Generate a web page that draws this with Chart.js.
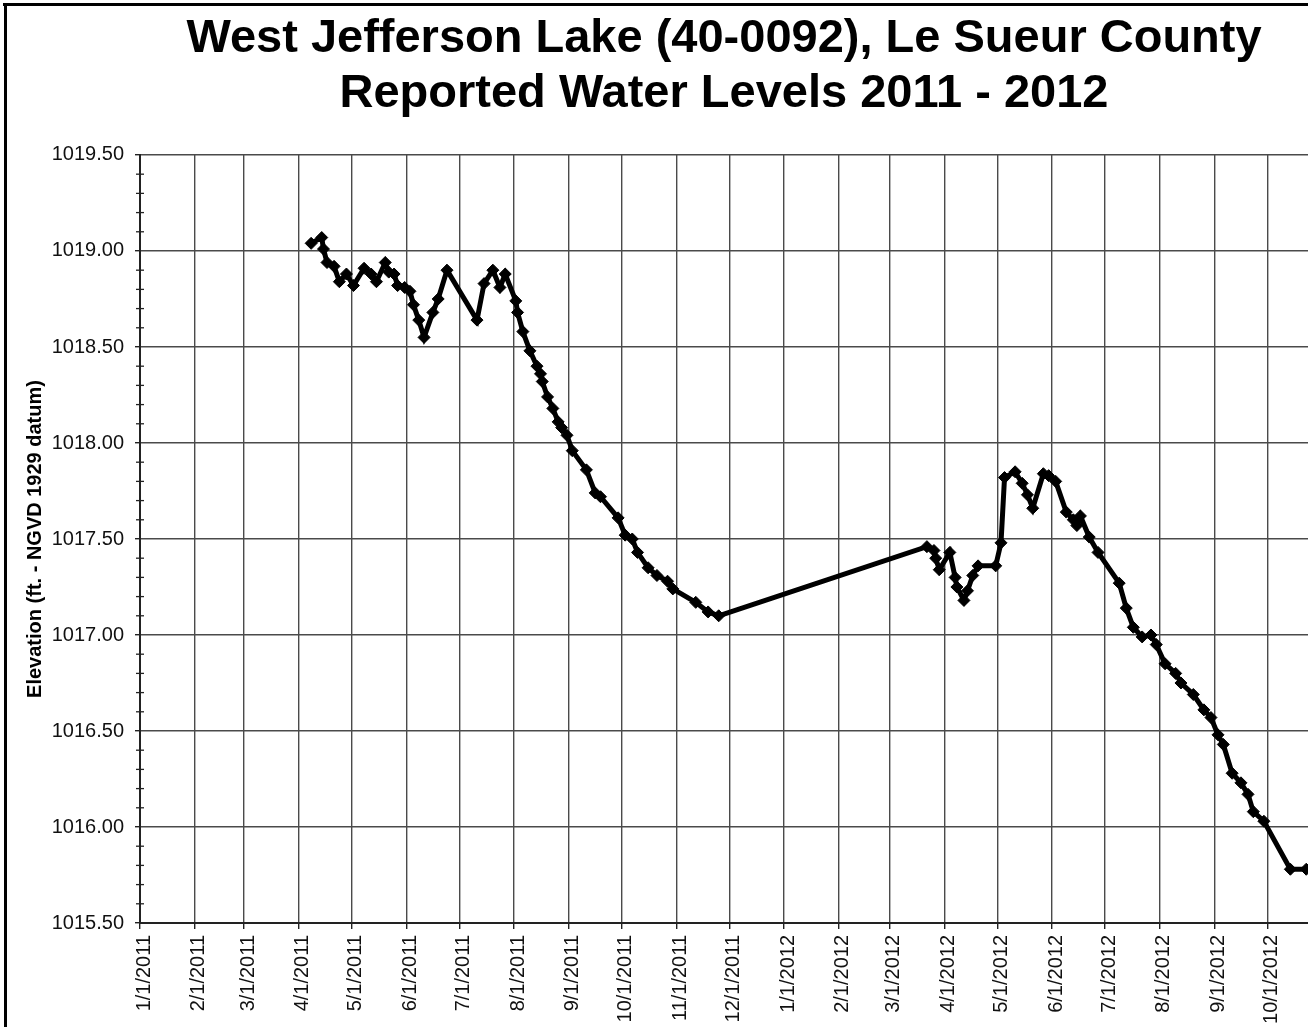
<!DOCTYPE html>
<html>
<head>
<meta charset="utf-8">
<script src="https://cdn.jsdelivr.net/npm/chart.js@4.4.1/dist/chart.umd.min.js"></script>
<style>
  html, body { margin: 0; padding: 0; background: #fff; }
  #wrap { position: relative; width: 1308px; height: 1027px; overflow: hidden; }
</style>
</head>
<body>
<div id="wrap"><canvas id="c"></canvas></div>
<script>
// ---------- data ----------
const chartTitle = ['West Jefferson Lake (40-0092), Le Sueur County', 'Reported Water Levels 2011 - 2012'];
const yAxisTitle = 'Elevation (ft. - NGVD 1929 datum)';

const tickLabels = [
  '1/1/2011','2/1/2011','3/1/2011','4/1/2011','5/1/2011','6/1/2011','7/1/2011','8/1/2011',
  '9/1/2011','10/1/2011','11/1/2011','12/1/2011','1/1/2012','2/1/2012','3/1/2012','4/1/2012',
  '5/1/2012','6/1/2012','7/1/2012','8/1/2012','9/1/2012','10/1/2012'
];
const xRange = ['1/1/2011', '10/24/2012'];
const yRange = [1015.5, 1019.5];
const yMajorStep = 0.5;
const yMinorStep = 0.1;

const sampleDates = [
  '4/8/2011','4/14/2011','4/15/2011','4/17/2011','4/21/2011','4/24/2011','4/28/2011',
  '5/2/2011','5/8/2011','5/12/2011','5/15/2011','5/20/2011','5/22/2011','5/25/2011','5/27/2011','5/31/2011',
  '6/3/2011','6/5/2011','6/8/2011','6/11/2011','6/16/2011','6/19/2011','6/24/2011',
  '7/11/2011','7/15/2011','7/20/2011','7/24/2011','7/27/2011',
  '8/2/2011','8/3/2011','8/6/2011','8/10/2011','8/14/2011','8/16/2011','8/17/2011','8/20/2011','8/23/2011','8/26/2011','8/28/2011','8/31/2011',
  '9/3/2011','9/11/2011','9/16/2011','9/19/2011','9/29/2011',
  '10/3/2011','10/7/2011','10/10/2011','10/16/2011','10/21/2011','10/27/2011','10/30/2011',
  '11/12/2011','11/19/2011','11/25/2011',
  '3/22/2012','3/26/2012','3/27/2012','3/29/2012',
  '4/4/2012','4/7/2012','4/8/2012','4/12/2012','4/14/2012','4/17/2012','4/20/2012','4/30/2012',
  '5/3/2012','5/5/2012','5/11/2012','5/15/2012','5/18/2012','5/21/2012','5/27/2012','5/30/2012',
  '6/3/2012','6/9/2012','6/13/2012','6/15/2012','6/17/2012','6/22/2012','6/27/2012',
  '7/9/2012','7/13/2012','7/17/2012','7/22/2012','7/27/2012','7/30/2012',
  '8/4/2012','8/10/2012','8/13/2012','8/20/2012','8/26/2012','8/30/2012',
  '9/3/2012','9/6/2012','9/11/2012','9/16/2012','9/20/2012','9/23/2012','9/29/2012',
  '10/14/2012','10/23/2012'
];
const levels = [
  1019.04,1019.07,1019.01,1018.94,1018.92,1018.84,1018.88,
  1018.82,1018.91,1018.88,1018.84,1018.94,1018.89,1018.88,1018.82,1018.81,
  1018.79,1018.72,1018.64,1018.55,1018.68,1018.75,1018.90,
  1018.64,1018.83,1018.90,1018.81,1018.88,
  1018.74,1018.68,1018.58,1018.48,1018.40,1018.36,1018.32,1018.24,1018.18,1018.11,1018.08,1018.04,
  1017.96,1017.86,1017.74,1017.72,1017.61,
  1017.52,1017.50,1017.43,1017.35,1017.31,1017.28,1017.24,
  1017.17,1017.12,1017.10,
  1017.46,1017.44,1017.40,1017.34,
  1017.43,1017.30,1017.25,1017.18,1017.23,1017.31,1017.36,1017.36,
  1017.48,1017.82,1017.85,1017.79,1017.73,1017.66,1017.84,1017.83,
  1017.80,1017.64,1017.60,1017.57,1017.62,1017.51,1017.43,
  1017.27,1017.14,1017.04,1016.99,1017.00,1016.95,
  1016.85,1016.80,1016.75,1016.69,1016.61,1016.57,
  1016.48,1016.43,1016.28,1016.23,1016.17,1016.08,1016.03,
  1015.78,1015.78
];

// ---------- helpers ----------
function mdy(s) { const [m, d, y] = s.split('/').map(Number); return Date.UTC(y, m - 1, d); }
const tickValues = tickLabels.map(mdy);
const labelByValue = new Map(tickValues.map((v, i) => [v, tickLabels[i]]));
const points = sampleDates.map((d, i) => ({ x: mdy(d), y: levels[i] }));

const framePlugin = {
  id: 'frame',
  beforeDraw(chart) {
    const ctx = chart.ctx;
    ctx.save();
    ctx.fillStyle = '#fff';
    ctx.fillRect(0, 0, chart.width, chart.height);
    ctx.restore();
  },
  afterDraw(chart) {
    const ctx = chart.ctx;
    const ys = chart.scales.y;
    const x0 = chart.chartArea.left;
    ctx.save();
    ctx.strokeStyle = '#222';
    ctx.lineWidth = 1.3;
    const n = Math.round((yRange[1] - yRange[0]) / yMinorStep);
    const per = Math.round(yMajorStep / yMinorStep);
    for (let i = 1; i < n; i++) {
      if (i % per === 0) continue;
      const p = ys.getPixelForValue(yRange[0] + i * yMinorStep);
      ctx.beginPath();
      ctx.moveTo(x0 - 4, p);
      ctx.lineTo(x0 + 4, p);
      ctx.stroke();
    }
    ctx.fillStyle = '#000';
    ctx.fillRect(3, 3, chart.width - 3, 3);
    ctx.fillRect(4, 3, 3, chart.height - 3);
    ctx.restore();
  }
};

new Chart(document.getElementById('c'), {
  type: 'line',
  data: {
    datasets: [{
      data: points,
      borderColor: '#000',
      borderWidth: 5,
      pointStyle: 'rectRot',
      pointRadius: 6,
      pointBackgroundColor: '#000',
      pointBorderColor: '#000',
      pointBorderWidth: 1,
      tension: 0
    }]
  },
  plugins: [framePlugin],
  options: {
    responsive: true,
    maintainAspectRatio: false,
    animation: false,
    layout: { padding: 0, autoPadding: false },
    plugins: {
      legend: { display: false },
      tooltip: { enabled: false },
      title: {
        display: true,
        text: chartTitle,
        fullSize: false,
        color: '#000',
        font: { family: "'Liberation Sans', Arial, sans-serif", size: 47, weight: 'bold', lineHeight: 1.17 },
        padding: { top: 12, bottom: 33 }
      }
    },
    scales: {
      x: {
        type: 'linear',
        min: mdy(xRange[0]),
        max: mdy(xRange[1]),
        afterBuildTicks: (s) => { s.ticks = tickValues.map(v => ({ value: v })); },
        afterFit: (s) => { s.height = 104; },
        ticks: {
          autoSkip: false,
          minRotation: 90,
          maxRotation: 90,
          padding: 6,
          labelOffset: 4,
          color: '#111',
          font: { family: "'Liberation Sans', Arial, sans-serif", size: 20 },
          callback: (v) => labelByValue.get(v) || ''
        },
        grid: { color: '#4a4a4a', lineWidth: 1.4, tickLength: 6, tickColor: '#222' },
        border: { color: '#222', width: 2 }
      },
      y: {
        min: yRange[0],
        max: yRange[1],
        afterFit: (s) => { s.width = 140; },
        ticks: {
          stepSize: yMajorStep,
          padding: 11,
          color: '#111',
          font: { family: "'Liberation Sans', Arial, sans-serif", size: 20 },
          callback: (v) => Number(v).toFixed(2)
        },
        grid: { color: '#4a4a4a', lineWidth: 1.4, tickLength: 5, tickColor: '#222' },
        border: { color: '#222', width: 2 },
        title: {
          display: true,
          text: yAxisTitle,
          color: '#000',
          font: { family: "'Liberation Sans', Arial, sans-serif", size: 20, weight: 'bold' },
          padding: { top: 23, bottom: 0 }
        }
      }
    }
  }
});
</script>
</body>
</html>
